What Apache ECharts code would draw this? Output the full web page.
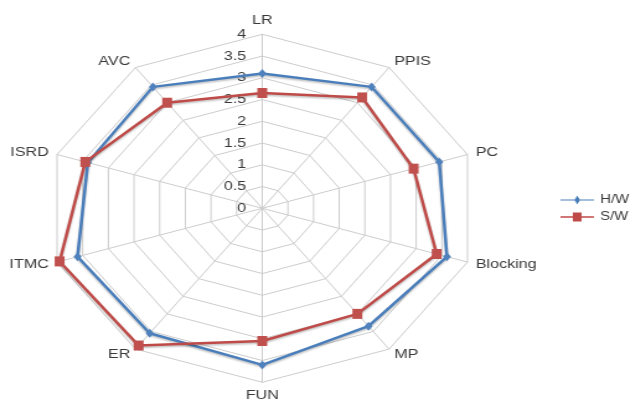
<!DOCTYPE html>
<html>
<head>
<meta charset="utf-8">
<script src="https://cdn.jsdelivr.net/npm/echarts@6/dist/echarts.min.js"></script>
<style>
html,body{margin:0;padding:0;background:#fff;overflow:hidden;}
#wrap{width:631px;height:406px;overflow:hidden;}
#chart{width:509px;height:406px;transform:scaleX(1.24);transform-origin:0 0;}
</style>
</head>
<body>
<div id="wrap"><div id="chart"></div></div>
<script>
// Categories in clockwise order starting at the top
const categories = ["LR","PPIS","PC","Blocking","MP","FUN","ER","ITMC","ISRD","AVC"];
const hwValues = [3.1, 3.45, 3.45, 3.6, 3.35, 3.6, 3.55, 3.6, 3.4, 3.45];
const swValues = [2.65, 3.15, 2.95, 3.4, 3.0, 3.05, 3.9, 3.95, 3.45, 3.0];
const seriesNames = ["H/W", "S/W"];
const tickMax = 4;
const tickStep = 0.5;

// ECharts places radar indicators counter-clockwise; reorder to get clockwise layout
const order = [0].concat(categories.slice(1).map((_, i) => categories.length - 1 - i));
const reorder = arr => order.map(i => arr[i]);

const cx = 211.5, cy = 208.3, R = 174;
const textColor = '#3a3a3a';
const gridColor = '#cccccc';

const chart = echarts.init(document.getElementById('chart'));
chart.setOption({
  animation: false,
  textStyle: { fontFamily: 'Liberation Sans, Arial, sans-serif' },
  legend: {
    orient: 'vertical',
    left: 447,
    top: 189,
    itemWidth: 27,
    itemHeight: 9,
    itemGap: 5,
    textStyle: { color: textColor, fontSize: 12 },
    data: [
      { name: seriesNames[0], icon: 'path://M0,4 L11.5,4 L13.5,0 L15.5,4 L27,4 L27,5 L15.5,5 L13.5,9 L11.5,5 L0,5 Z', itemStyle: { color: '#4A7EBB' } },
      { name: seriesNames[1], icon: 'path://M0,3.8 L10,3.8 L10,0 L17,0 L17,3.8 L27,3.8 L27,5.2 L17,5.2 L17,9 L10,9 L10,5.2 L0,5.2 Z', itemStyle: { color: '#BE4B48' } }
    ]
  },
  radar: {
    center: [cx, cy],
    radius: R,
    startAngle: 90,
    splitNumber: tickMax / tickStep,
    shape: 'polygon',
    nameGap: 7,
    axisName: { color: textColor, fontSize: 13 },
    axisLine: { lineStyle: { color: gridColor, width: 1 } },
    splitLine: { lineStyle: { color: gridColor, width: 1 } },
    splitArea: { show: false },
    axisTick: { show: false },
    axisLabel: { show: false },
    indicator: reorder(categories).map(n => ({ name: n, min: 0, max: tickMax }))
  },
  grid: { left: cx, top: cy - R, width: 1, height: R },
  xAxis: { type: 'value', show: false },
  yAxis: {
    type: 'value', min: 0, max: tickMax, interval: tickStep,
    axisLine: { show: false }, axisTick: { show: false }, splitLine: { show: false },
    axisLabel: { color: textColor, fontSize: 13, margin: 13 }
  },
  series: [{
    type: 'radar',
    data: [
      {
        name: seriesNames[0],
        value: reorder(hwValues),
        symbol: 'diamond',
        symbolSize: [6.5, 9],
        lineStyle: { color: '#4A7EBB', width: 2.5, shadowColor: 'rgba(0,0,0,0.25)', shadowBlur: 2, shadowOffsetY: 1.5 },
        itemStyle: { color: '#4F81BD', borderWidth: 0 }
      },
      {
        name: seriesNames[1],
        value: reorder(swValues),
        symbol: 'rect',
        symbolSize: [8, 10],
        lineStyle: { color: '#BE4B48', width: 2.5, shadowColor: 'rgba(0,0,0,0.25)', shadowBlur: 2, shadowOffsetY: 1.5 },
        itemStyle: { color: '#C0504D', borderWidth: 0 }
      }
    ]
  }]
});
</script>
</body>
</html>
